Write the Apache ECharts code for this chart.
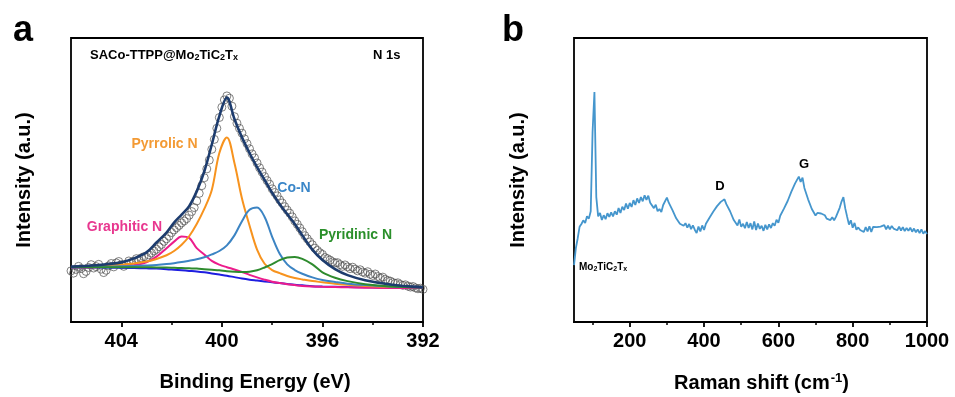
<!DOCTYPE html>
<html>
<head>
<meta charset="utf-8">
<script src="https://cdn.jsdelivr.net/npm/echarts@6/dist/echarts.min.js"></script>
<style>
  html, body { margin: 0; padding: 0; background: #fff; }
  #chart { width: 955px; height: 397px; }
</style>
</head>
<body>
<div id="chart"></div>
<script>
const FONT = '"Liberation Sans", Arial, Helvetica, sans-serif';

// ---- panel a: XPS N 1s (binding energy, eV) ----
const xpsEnergy = [406, 405, 404, 403.5, 403, 402.6, 402.2, 401.9, 401.6, 401.3, 401.0, 400.7, 400.4, 400.1, 399.8, 399.5,
  399.2, 398.9, 398.6, 398.3, 398.0, 397.7, 397.4, 397.1, 396.8, 396.4, 396.0, 395.5, 395.0, 394.3, 393.3, 392];
const xpsBackground = [19.2, 19.2, 19.1, 19.0, 18.9, 18.8, 18.6, 18.4, 18.2, 18.0, 17.8, 17.5, 17.1, 16.7, 16.3, 15.8,
  15.3, 14.9, 14.6, 14.3, 14.0, 13.7, 13.4, 13.1, 12.9, 12.6, 12.5, 12.4, 12.3, 12.2, 12.1, 12.0];
const xpsGraphitic = [19.2, 19.3, 19.6, 20.0, 21.0, 23.0, 26.0, 28.3, 30.1, 29.6, 26.0, 23.8, 21.5, 20.2, 19.3, 18.5,
  17.6, 16.6, 15.7, 14.9, 14.2, 13.7, 13.3, 13.0, 12.7, 12.5, 12.4, 12.3, 12.2, 12.1, 12.0, 12.0];
const xpsPyrrolic = [19.4, 19.7, 20.2, 20.6, 21.3, 22.2, 23.5, 25.0, 27.2, 30.2, 34.5, 39.8, 46.5, 59.5, 65.0, 56.0,
  43.5, 34.0, 25.5, 20.5, 18.3, 17.2, 16.2, 15.5, 15.0, 14.4, 14.0, 13.5, 13.1, 12.7, 12.4, 12.2];
const xpsCoN = [19.3, 19.4, 19.6, 19.7, 19.9, 20.1, 20.4, 20.7, 21.1, 21.6, 22.1, 22.8, 23.8, 25.0, 27.0, 30.5,
  35.5, 39.5, 40.3, 37.0, 30.0, 24.0, 20.3, 18.3, 17.0, 15.7, 14.8, 14.1, 13.5, 13.0, 12.5, 12.2];
const xpsPyridinic = [19.3, 19.3, 19.3, 19.3, 19.3, 19.2, 19.2, 19.1, 19.0, 18.9, 18.8, 18.6, 18.4, 18.2, 17.9, 17.7,
  17.6, 17.7, 18.2, 19.2, 20.4, 21.8, 22.7, 22.9, 22.2, 20.3, 17.5, 15.6, 14.4, 13.3, 12.5, 12.2];
const xpsEnvelope = [19.5, 20.0, 21.0, 22.4, 24.5, 28.0, 31.5, 35.0, 37.8, 40.8, 46.0, 53.0, 62.5, 72.5, 79.0, 71.5,
  65.0, 59.5, 54.5, 50.0, 45.5, 41.5, 38.0, 34.5, 30.5, 25.5, 21.8, 18.6, 16.5, 14.7, 13.2, 12.2];

// measured points, 406.0 eV down to 392.0 eV every 0.1 eV
const xpsRawStart = 406;
const xpsRawStep = 0.1;
const xpsRaw = [
  18.0, 17.2, 18.5, 19.6, 18.8, 17.0, 17.8, 19.2, 20.2, 19.0,
  19.5, 20.3, 18.6, 17.4, 18.2, 19.8, 20.6, 19.4, 20.8, 21.3,
  20.2, 19.6, 20.4, 21.5, 21.0, 21.4, 22.3, 21.7, 22.6, 23.0,
  22.8, 23.6, 24.3, 25.0, 25.6, 26.5, 27.3, 28.4, 29.3, 30.2,
  31.5, 32.4, 33.2, 34.0, 34.9, 35.6, 36.4, 37.6, 38.9, 40.3,
  42.6, 45.3, 48.0, 50.8, 53.9, 57.0, 60.8, 64.3, 68.2, 72.0,
  75.6, 78.2, 79.6, 78.8, 76.0, 72.3, 70.0, 68.2, 66.5, 64.5,
  62.8, 61.0, 59.2, 57.8, 56.0, 54.3, 52.8, 51.2, 49.8, 48.5,
  46.9, 45.6, 44.4, 43.0, 41.9, 40.6, 39.4, 38.3, 37.0, 35.6,
  34.4, 33.1, 31.8, 30.4, 29.3, 28.2, 27.2, 26.0, 25.2, 24.4,
  23.8, 22.7, 22.3, 21.8, 21.2, 20.8, 20.9, 20.2, 19.6, 20.1,
  19.4, 18.8, 19.3, 18.6, 18.0, 18.4, 17.6, 17.2, 17.7, 16.8,
  16.4, 16.9, 16.0, 15.5, 15.8, 15.0, 14.6, 14.4, 13.9, 13.6,
  13.8, 13.2, 12.9, 13.1, 12.6, 12.3, 12.5, 12.0, 11.7, 11.9,
  11.5
];
const xpsTicks = [392, 396, 400, 404];
const xpsMinorTicks = [394, 398, 402];

// ---- panel b: Raman, 50 to 1000 cm-1 every 5 cm-1 ----
const ramanStart = 50;
const ramanStep = 5;
const ramanIntensity = [
  20.0, 26.0, 29.5, 33.5, 34.5, 35.8, 34.9, 37.2, 36.4, 39.0,
  67.0, 81.0, 44.0, 37.2, 38.4, 35.9, 37.6, 36.2, 38.3, 37.0,
  38.6, 37.2, 39.0, 37.8, 40.1, 38.4, 40.6, 39.4, 41.7, 39.9,
  41.9, 40.5, 42.9, 41.2, 43.5, 41.9, 44.0, 42.5, 44.6, 43.0,
  44.5, 42.0, 42.6, 40.1, 41.3, 39.0, 39.8, 38.7, 41.2, 41.9,
  43.8, 42.0, 41.8, 39.4, 38.9, 36.5, 36.2, 34.6, 35.3, 33.9,
  34.8, 33.2, 34.5, 32.7, 34.0, 32.5, 31.3, 33.6, 31.9, 34.0,
  32.4, 34.6, 34.3, 36.8, 36.4, 38.9, 38.2, 40.8, 40.1, 42.3,
  41.6, 43.2, 41.5, 42.0, 39.0, 38.6, 35.9, 35.8, 34.0, 36.1,
  33.5, 34.6, 33.0, 35.2, 33.1, 34.8, 32.6, 35.4, 32.4, 34.7,
  32.8, 33.9, 32.1, 34.2, 32.6, 34.4, 33.1, 34.8, 33.9, 36.0,
  34.9, 37.4, 36.9, 39.9, 39.6, 42.6, 43.0, 45.9, 45.8, 48.8,
  48.3, 51.2, 49.3, 50.8, 47.2, 46.6, 43.2, 42.6, 39.8, 40.1,
  37.5, 38.4, 38.0, 38.2, 37.6, 37.6, 36.4, 37.1, 35.9, 36.9,
  35.8, 37.0, 36.4, 40.2, 42.4, 44.0, 40.0, 37.1, 34.3, 35.8,
  33.2, 34.9, 32.5, 33.3, 32.4, 32.9, 31.7, 33.4, 31.9, 33.7,
  31.7, 33.5, 32.8, 33.4, 32.7, 33.6, 33.0, 34.1, 32.6, 33.9,
  32.6, 33.8, 32.9, 33.5, 32.3, 33.6, 32.2, 33.4, 32.0, 33.1,
  32.1, 33.2, 31.8, 32.9, 31.6, 32.6, 31.3, 32.6, 31.1, 32.0,
  31.0
];
const ramanTicks = [200, 400, 600, 800, 1000];
const ramanMinorTicks = [100, 300, 500, 700, 900];

const zip = (xs, ys) => xs.map((x, i) => [x, ys[i]]);
const stepped = (start, step, ys) => ys.map((y, i) => [+(start + i * step).toFixed(2), y]);

const chart = echarts.init(document.getElementById("chart"), null, { renderer: "canvas" });

const titleStyle = { color: "#000", fontSize: 20, fontWeight: "bold", fontFamily: FONT };
const tickLabel = {
  color: "#000", fontSize: 20, fontWeight: "bold", fontFamily: FONT, margin: 9,
  formatter: (v) => String(v),
};

const mainX = (grid, min, max, ticks, inverse, name, nameStyle) => ({
  gridIndex: grid, type: "value", min, max, inverse, position: "bottom",
  axisLine: { show: true, onZero: false, lineStyle: { color: "#000", width: 1.8 } },
  axisTick: { show: true, customValues: ticks, length: 5, lineStyle: { color: "#000", width: 1.8 } },
  axisLabel: { ...tickLabel, customValues: ticks },
  splitLine: { show: false },
  name, nameLocation: "middle", nameGap: 50, nameTextStyle: nameStyle,
});
const minorX = (grid, min, max, ticks, inverse) => ({
  gridIndex: grid, type: "value", min, max, inverse, position: "bottom",
  axisLine: { show: false, onZero: false },
  axisTick: { show: true, customValues: ticks, length: 3, lineStyle: { color: "#000", width: 1.5 } },
  axisLabel: { show: false },
  splitLine: { show: false },
});
const plainY = (grid, gap) => ({
  gridIndex: grid, type: "value", min: 0, max: 100,
  axisLine: { show: false }, axisTick: { show: false }, axisLabel: { show: false },
  splitLine: { show: false },
  name: "Intensity (a.u.)", nameLocation: "middle", nameGap: gap, nameTextStyle: titleStyle,
});

const comp = (name, ys, color, width) => ({
  name, type: "line", xAxisIndex: 0, yAxisIndex: 0,
  data: zip(xpsEnergy, ys), showSymbol: false, smooth: 0.35,
  lineStyle: { color, width }, z: 3,
});

const label = (text, x, y, fill, size, align) => ({
  type: "text", x, y, silent: true,
  style: { text, fill, font: `bold ${size}px ${FONT}`, align: align || "center", verticalAlign: "middle" },
});
const subLabel = (parts, x, y, size, subSize, pad) => ({
  type: "text", x, y, silent: true,
  style: {
    text: parts, align: "left", verticalAlign: "middle",
    rich: {
      n: { fill: "#000", fontSize: size, fontWeight: "bold", fontFamily: FONT, verticalAlign: "middle" },
      s: { fill: "#000", fontSize: subSize, fontWeight: "bold", fontFamily: FONT, verticalAlign: "middle", padding: [pad, 0, 0, 0] },
    },
  },
});

chart.setOption({
  animation: false,
  backgroundColor: "#fff",
  grid: [
    { left: 71, top: 38, width: 352, height: 284, show: true, borderColor: "#000", borderWidth: 1.8,
      backgroundColor: "transparent", outerBoundsMode: "none" },
    { left: 574, top: 38, width: 353, height: 284, show: true, borderColor: "#000", borderWidth: 1.8,
      backgroundColor: "transparent", outerBoundsMode: "none" },
  ],
  xAxis: [
    mainX(0, 392, 406, xpsTicks, true, "Binding Energy (eV)", { ...titleStyle, padding: [0, 0, 0, 16] }),
    minorX(0, 392, 406, xpsMinorTicks, true),
    mainX(1, 50, 1000, ramanTicks, false, "{n|Raman shift (cm}{sup|-1}{n|)}", {
      padding: [0, 0, 0, 22],
      rich: {
        n: { ...titleStyle },
        sup: { ...titleStyle, fontSize: 13, padding: [0, 0, 9, 1] },
      },
    }),
    minorX(1, 50, 1000, ramanMinorTicks, false),
  ],
  yAxis: [plainY(0, 37), plainY(1, 46)],
  series: [
    {
      name: "data", type: "scatter", xAxisIndex: 0, yAxisIndex: 0,
      data: stepped(xpsRawStart, -xpsRawStep, xpsRaw),
      symbol: "circle", symbolSize: 8,
      itemStyle: { color: "rgba(0,0,0,0)", borderColor: "#505050", borderWidth: 0.9 },
      z: 2,
    },
    comp("Background", xpsBackground, "#1e1ee0", 2),
    comp("Graphitic N", xpsGraphitic, "#ec1c8c", 2),
    comp("Pyrrolic N", xpsPyrrolic, "#f7931e", 2),
    comp("Co-N", xpsCoN, "#3c84c3", 2),
    comp("Pyridinic N", xpsPyridinic, "#2e8b2e", 2),
    { ...comp("Envelope", xpsEnvelope, "#1d3c6e", 2.6), z: 4 },
    {
      name: "Raman", type: "line", xAxisIndex: 2, yAxisIndex: 1,
      data: stepped(ramanStart, ramanStep, ramanIntensity),
      showSymbol: false, lineStyle: { color: "#4596cd", width: 1.8 },
    },
  ],
  graphic: [
    label("a", 23, 31, "#000", 36),
    label("b", 513, 31, "#000", 36),
    subLabel("{n|SACo-TTPP@Mo}{s|2}{n|TiC}{s|2}{n|T}{s|x}", 90, 55, 13, 9, 6),
    label("N 1s", 373, 55, "#000", 13, "left"),
    label("Pyrrolic N", 164.5, 144, "#f39a34", 14),
    label("Co-N", 294, 188, "#3a86c8", 14),
    label("Graphitic N", 124.5, 227, "#e8378f", 14),
    label("Pyridinic N", 355.5, 235, "#2a8f2a", 14),
    label("D", 720, 186.5, "#000", 13),
    label("G", 804, 164, "#000", 13),
    subLabel("{n|Mo}{s|2}{n|TiC}{s|2}{n|T}{s|x}", 579, 267, 10, 7, 5),
  ],
});
</script>
</body>
</html>
